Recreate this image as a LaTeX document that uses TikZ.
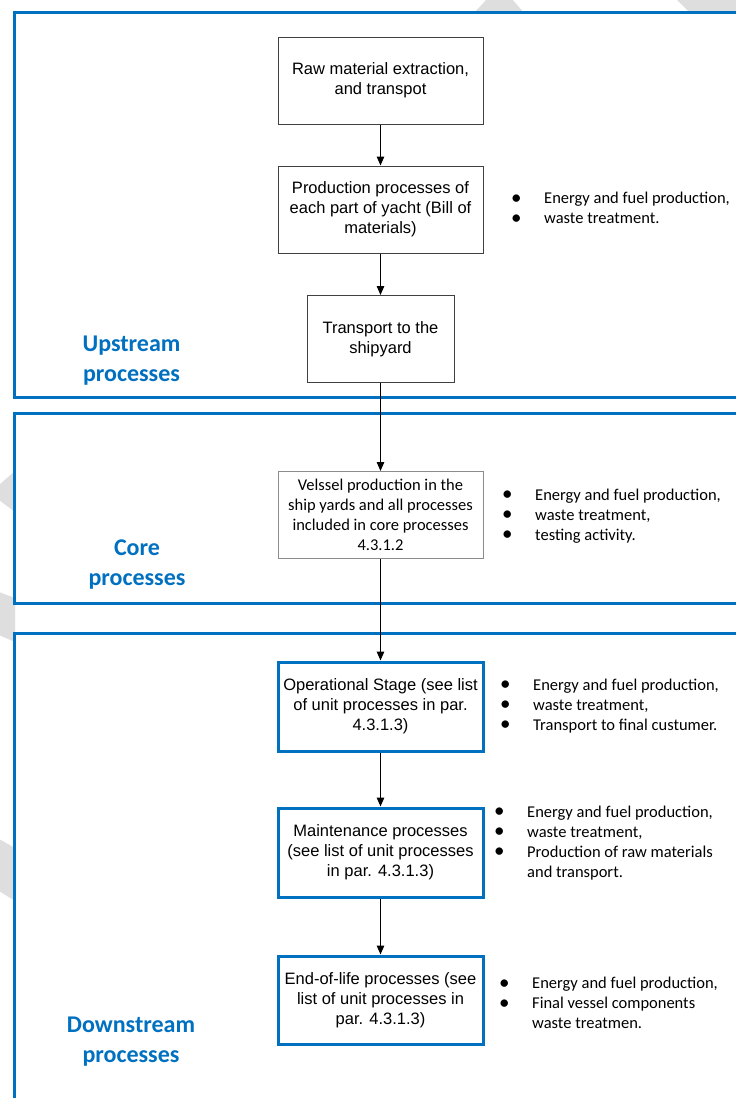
\documentclass[tikz,border=0pt]{standalone}
\usepackage{fontspec}
\setmainfont{Liberation Sans}
\newfontfamily\carl{Carlito}
\usetikzlibrary{arrows.meta}
\definecolor{wblue}{HTML}{0070C0}
\definecolor{wmark}{HTML}{DEDEDE}
\tikzset{
  frame/.style={draw=wblue, line width=3pt, fill=white},
  procbox/.style={draw=black!75, line width=1pt, fill=white, minimum height=87pt, inner sep=0pt, align=center,
    font=\fontsize{16.5}{20}\selectfont},
  graybox/.style={procbox, draw=black!45, font=\carl\fontsize{16.5}{20}\selectfont},
  bluebox/.style={procbox, draw=wblue, line width=3pt},
  flow/.style={-{Triangle[length=9pt,width=7.5pt]}, line width=1.2pt, black},
  stagelabel/.style={font=\carl\bfseries\fontsize{24}{30}\selectfont, text=wblue, align=center, inner sep=0pt},
  bullets/.style={anchor=west, inner sep=0pt, font=\carl\fontsize{16.5}{20}\selectfont}
}
\newcommand{\blist}[1]{\begin{tabular}{@{}p{33pt}@{}l@{}}#1\end{tabular}}
\newcommand{\bul}{\raisebox{-0.5pt}{\fontsize{21}{20}\selectfont\textbullet}}
\begin{document}
\begin{tikzpicture}[x=1pt,y=-1pt]
\useasboundingbox (0,0) rectangle (736,1098);
\clip (0,0) rectangle (736,1098);
\fill[white] (0,0) rectangle (736,1098);
% watermark fragments
\fill[wmark] (474,13) -- (487,-1) -- (512,-1) -- (524,13) -- cycle;
\fill[wmark] (676,-1) -- (737,-1) -- (737,13) -- (690,13) -- cycle;
\fill[wmark] (-1,485) -- (15,471) -- (15,512) -- (-1,500) -- cycle;
\fill[wmark] (-1,592) -- (15,598) -- (15,642) -- (-1,635) -- cycle;
\fill[wmark] (-1,839) -- (15,848) -- (15,901) -- (-1,891) -- cycle;
% frames
\draw[frame] (14,12) rectangle (760,397);
\draw[frame] (14,413) rectangle (760,603);
\draw[frame] (14,633) rectangle (760,1120);
% stage labels
\node[stagelabel] (up) at (131.5,361) {Upstream\\processes};
\node[stagelabel] (core) at (137,565) {Core\\processes};
\node[stagelabel] (down) at (131,1042) {Downstream\\processes};
% process boxes
\node[procbox, minimum width=205pt] (b1) at (380.5,80.5) {Raw material extraction,\\and transpot};
\node[procbox, minimum width=205pt] (b2) at (380.5,209.5) {Production processes of\\each part of yacht (Bill of\\materials)};
\node[procbox, minimum width=147pt] (b3) at (380.5,339) {Transport to the\\shipyard};
\node[graybox, minimum width=205pt] (b4) at (380.5,515) {Velssel production in the\\ship yards and all processes\\included in core processes\\4.3.1.2};
\node[bluebox, minimum width=205pt, minimum height=89pt] (b5) at (380.5,706.5) {Operational Stage (see list\\of unit processes in par.\\4.3.1.3)};
\node[bluebox, minimum width=205pt, minimum height=89pt] (b6) at (380.5,852.5) {Maintenance processes\\(see list of unit processes\\in par. 4.3.1.3)};
\node[bluebox, minimum width=205pt, minimum height=88pt] (b7) at (380.5,1000) {End-of-life processes (see\\list of unit processes in\\par. 4.3.1.3)};
% connectors
\draw[flow] (b1) -- (b2);
\draw[flow] (b2) -- (b3);
\draw[flow] (b3) -- (b4);
\draw[flow] (b4) -- (b5);
\draw[flow] (b5) -- (b6);
\draw[flow] (b6) -- (b7);
% bullet lists
\node[bullets] (l2) at (511,209.5) {\blist{\bul & Energy and fuel production,\\ \bul & waste treatment.}};
\node[bullets] (l4) at (502,516) {\blist{\bul & Energy and fuel production,\\ \bul & waste treatment,\\ \bul & testing activity.}};
\node[bullets] (l5) at (500,706) {\blist{\bul & Energy and fuel production,\\ \bul & waste treatment,\\ \bul & Transport to final custumer.}};
\node[bullets] (l6) at (494,843) {\blist{\bul & Energy and fuel production,\\ \bul & waste treatment,\\ \bul & Production of raw materials\\ & and transport.}};
\node[bullets] (l7) at (499,1004.5) {\blist{\bul & Energy and fuel production,\\ \bul & Final vessel components\\ & waste treatmen.}};
\end{tikzpicture}
\end{document}
